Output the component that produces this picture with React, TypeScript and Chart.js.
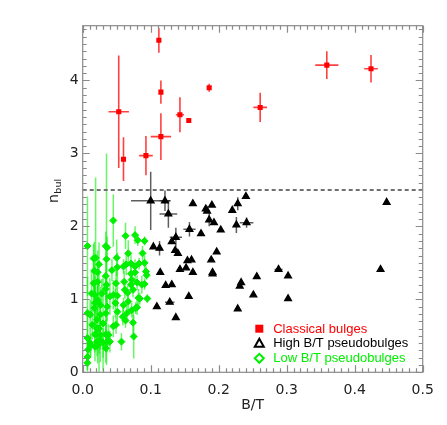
import React, { useEffect, useRef } from "react";
import { Chart, registerables } from "chart.js";

Chart.register(...registerables);

// ---------- data ----------
const xTickValues = [0, 0.1, 0.2, 0.3, 0.4, 0.5];
const yTickValues = [0, 1, 2, 3, 4];
const threshold = 2.5;

const legendLabels = ["Classical bulges", "High B/T pseudobulges", "Low B/T pseudobulges"];

// Classical bulges (red squares)
const classicalBT = [0.053, 0.060, 0.093, 0.112, 0.115, 0.115, 0.143, 0.156, 0.186, 0.261, 0.359, 0.424];
const classicalN = [3.57, 2.92, 2.97, 4.55, 3.84, 3.23, 3.53, 3.45, 3.90, 3.63, 4.21, 4.16];
const classicalBTErr = [0.015, 0, 0.010, 0, 0, 0.015, 0.006, 0, 0, 0.010, 0.017, 0.010];
const classicalNErr = [0.77, 0.30, 0.27, 0.17, 0.16, 0.32, 0.24, 0, 0.055, 0.20, 0.19, 0.19];

// High B/T pseudobulges (black triangles)
const highBT = [0.100, 0.121, 0.126, 0.162, 0.190, 0.181, 0.183, 0.220, 0.228, 0.240, 0.447, 0.186, 0.193, 0.203, 0.226, 0.241,
  0.157, 0.174, 0.137, 0.131, 0.104, 0.113, 0.136, 0.140, 0.197, 0.154, 0.160, 0.189, 0.152, 0.143, 0.162, 0.191, 0.191, 0.114,
  0.122, 0.131, 0.109, 0.128, 0.137, 0.156, 0.233, 0.231, 0.256, 0.251, 0.228, 0.288, 0.302, 0.302, 0.438];
const highN = [2.35, 2.35, 2.17, 2.31, 2.29, 2.24, 2.21, 2.22, 2.31, 2.41, 2.33, 2.09, 2.05, 1.95, 2.02, 2.05,
  1.96, 1.90, 1.85, 1.79, 1.72, 1.70, 1.67, 1.63, 1.65, 1.53, 1.54, 1.54, 1.43, 1.41, 1.37, 1.37, 1.35, 1.37,
  1.19, 1.20, 0.90, 0.96, 0.75, 1.04, 1.23, 1.18, 1.31, 1.06, 0.87, 1.41, 1.32, 1.01, 1.41];
const highBTErr = [0.029, 0.008, 0.013, 0, 0, 0, 0, 0, 0, 0, 0, 0, 0, 0, 0, 0.010,
  0.009, 0, 0.009, 0, 0, 0, 0, 0, 0, 0, 0, 0, 0, 0, 0, 0, 0, 0,
  0, 0, 0, 0.007, 0, 0, 0, 0, 0, 0, 0, 0.006, 0, 0, 0];
const highNErr = [0.40, 0.14, 0.19, 0, 0, 0, 0, 0, 0.09, 0, 0, 0.09, 0, 0, 0.11, 0.07,
  0.10, 0, 0.13, 0, 0, 0.10, 0, 0, 0, 0, 0, 0, 0, 0, 0, 0, 0, 0,
  0, 0, 0, 0, 0, 0, 0, 0, 0, 0, 0, 0, 0, 0, 0];

// Low B/T pseudobulges (green diamonds)
const lowBT = [0.007, 0.045, 0.063, 0.077, 0.081, 0.091, 0.034, 0.036, 0.067, 0.088, 0.019, 0.016, 0.035, 0.050, 0.024,
  0.064, 0.060, 0.071, 0.051, 0.077, 0.083, 0.091, 0.093, 0.094, 0.071, 0.077, 0.017, 0.022, 0.034, 0.043,
  0.016, 0.022, 0.035, 0.049, 0.061, 0.072, 0.071, 0.080, 0.087, 0.091, 0.013, 0.018, 0.022, 0.028, 0.034,
  0.040, 0.045, 0.051, 0.062, 0.066, 0.074, 0.082, 0.084, 0.095, 0.067, 0.060, 0.072, 0.078, 0.080, 0.065,
  0.051, 0.048, 0.036, 0.026, 0.018, 0.007, 0.011, 0.017, 0.026, 0.034, 0.021, 0.014, 0.059, 0.063, 0.074,
  0.045, 0.049, 0.030, 0.024, 0.021, 0.007, 0.011, 0.008, 0.007, 0.018, 0.026, 0.034, 0.038, 0.021, 0.030,
  0.026, 0.036, 0.040, 0.034, 0.024, 0.057, 0.075, 0.018, 0.022, 0.012, 0.007];
const lowN = [1.73, 2.08, 1.87, 1.88, 1.81, 1.80, 1.73, 1.71, 1.63, 1.63, 1.57, 1.56, 1.55, 1.57, 1.48,
  1.48, 1.45, 1.49, 1.44, 1.45, 1.49, 1.50, 1.38, 1.33, 1.35, 1.37, 1.39, 1.37, 1.32, 1.40,
  1.22, 1.24, 1.20, 1.22, 1.24, 1.27, 1.20, 1.23, 1.20, 1.21, 1.08, 1.06, 0.99, 1.08, 1.14,
  1.04, 1.06, 1.05, 1.13, 1.09, 1.13, 1.02, 1.01, 1.01, 0.97, 0.92, 0.85, 0.88, 0.89, 0.81,
  0.83, 0.95, 0.90, 0.92, 0.95, 0.81, 0.79, 0.88, 0.79, 0.81, 0.72, 0.65, 0.76, 0.71, 0.68,
  0.63, 0.65, 0.67, 0.60, 0.60, 0.47, 0.40, 0.31, 0.21, 0.52, 0.51, 0.52, 0.51, 0.42, 0.40,
  0.44, 0.42, 0.42, 0.33, 0.40, 0.42, 0.49, 0.35, 0.37, 0.37, 0.13];
const lowNErr = [0.68, 0.36, 0.18, 0.12, 0.08, 0.06, 0.20, 0.15, 0.18, 0.10, 1.10, 0.20, 1.45, 0.25, 0.30,
  0.15, 0.10, 0.12, 0.20, 0.10, 0.08, 0.10, 0.08, 0.06, 0.10, 0.12, 0.40, 0.30, 0.20, 0.15,
  0.35, 0.25, 0.30, 0.20, 0.15, 0.12, 0.10, 0.10, 0.12, 0.08, 0.30, 0.25, 0.20, 0.20, 0.15,
  0.25, 0.20, 0.15, 0.12, 0.10, 0.10, 0.12, 0.08, 0.06, 0.15, 0.10, 0.10, 0.08, 0.10, 0.12,
  0.15, 0.20, 0.20, 0.25, 0.30, 0.50, 0.20, 0.30, 0.20, 0.30, 0.25, 0.20, 0.12, 0.10, 0.15,
  0.15, 0.12, 0.65, 0.60, 0.30, 0.40, 0.20, 0.15, 0.20, 0.25, 0.20, 0.20, 0.15, 0.20, 0.20,
  0.30, 0.15, 0.15, 0.20, 0.15, 0.12, 0.30, 0.20, 0.25, 0.15, 0.10];

// ---------- helpers ----------
const toPoints = (xs: number[], ys: number[]) => xs.map((x, i) => ({ x, y: ys[i] }));

const errorBarPlugin = {
  id: "errorBars",
  beforeDatasetsDraw(chart: any) {
    const { ctx, chartArea: a } = chart;
    const xs = chart.scales.x;
    const ys = chart.scales.y;
    ctx.save();
    ctx.beginPath();
    ctx.rect(a.left, a.top, a.right - a.left, a.bottom - a.top);
    ctx.clip();
    chart.data.datasets.forEach((ds: any) => {
      if (!ds.xErr && !ds.yErr) return;
      ctx.strokeStyle = ds.errColor;
      ctx.lineWidth = ds.errWidth || 1.5;
      ds.data.forEach((p: any, j: number) => {
        const px = xs.getPixelForValue(p.x);
        const py = ys.getPixelForValue(p.y);
        ctx.beginPath();
        if (ds.yErr && ds.yErr[j]) {
          ctx.moveTo(px, ys.getPixelForValue(p.y - ds.yErr[j]));
          ctx.lineTo(px, ys.getPixelForValue(p.y + ds.yErr[j]));
        }
        if (ds.xErr && ds.xErr[j]) {
          ctx.moveTo(xs.getPixelForValue(p.x - ds.xErr[j]), py);
          ctx.lineTo(xs.getPixelForValue(p.x + ds.xErr[j]), py);
        }
        ctx.stroke();
      });
    });
    ctx.restore();
  },
};

const framePlugin = {
  id: "frameTicks",
  afterDatasetsDraw(chart: any) {
    const { ctx, chartArea: a } = chart;
    const xs = chart.scales.x;
    const ys = chart.scales.y;
    ctx.save();
    ctx.strokeStyle = "#8a8a8a";
    ctx.lineWidth = 1.2;
    ctx.strokeRect(a.left, a.top, a.right - a.left, a.bottom - a.top);
    ctx.beginPath();
    const xMinorStep = 0.01;
    const nx = Math.round((xs.max - xs.min) / xMinorStep);
    for (let i = 0; i <= nx; i++) {
      const v = xs.min + i * xMinorStep;
      const px = Math.round(xs.getPixelForValue(v)) + 0.5;
      const len = i % 10 === 0 ? 7 : 4;
      ctx.moveTo(px, a.bottom);
      ctx.lineTo(px, a.bottom - len);
      ctx.moveTo(px, a.top);
      ctx.lineTo(px, a.top + len);
    }
    const yMinorStep = 0.1;
    const ny = Math.floor((ys.max - ys.min) / yMinorStep + 1e-6);
    for (let i = 0; i <= ny; i++) {
      const v = ys.min + i * yMinorStep;
      const py = Math.round(ys.getPixelForValue(v)) + 0.5;
      const len = i % 10 === 0 ? 7 : 4;
      ctx.moveTo(a.left, py);
      ctx.lineTo(a.left + len, py);
      ctx.moveTo(a.right, py);
      ctx.lineTo(a.right - len, py);
    }
    ctx.stroke();
    ctx.restore();
  },
};

const yTitlePlugin = {
  id: "yTitle",
  afterDraw(chart: any) {
    const { ctx, chartArea: a } = chart;
    ctx.save();
    ctx.translate(a.left - 25, (a.top + a.bottom) / 2 - 1);
    ctx.rotate(-Math.PI / 2);
    ctx.fillStyle = "#222";
    ctx.textBaseline = "alphabetic";
    ctx.textAlign = "left";
    ctx.font = "14px 'DejaVu Sans'";
    ctx.fillText("n", -5, 0);
    const w = ctx.measureText("n").width;
    ctx.font = "9.5px 'DejaVu Sans'";
    ctx.fillText("bul", -5 + w + 0.5, 3.5);
    ctx.restore();
  },
};

const legendPlugin = {
  id: "customLegend",
  afterDraw(chart: any) {
    const { ctx, chartArea: a } = chart;
    const mx = a.right - 163.4;
    const tx = a.right - 149.5;
    const rows = [a.bottom - 43.6, a.bottom - 29, a.bottom - 14];
    const colors = ["#ff0000", "#000000", "#00f000"];
    ctx.save();
    ctx.fillStyle = colors[0];
    ctx.fillRect(mx - 4, rows[0] - 4, 8, 8);
    ctx.strokeStyle = colors[1];
    ctx.lineWidth = 2;
    ctx.beginPath();
    ctx.moveTo(mx, rows[1] - 4.5);
    ctx.lineTo(mx + 4.5, rows[1] + 3.5);
    ctx.lineTo(mx - 4.5, rows[1] + 3.5);
    ctx.closePath();
    ctx.stroke();
    ctx.strokeStyle = colors[2];
    ctx.beginPath();
    ctx.moveTo(mx, rows[2] - 4.5);
    ctx.lineTo(mx + 4.5, rows[2]);
    ctx.lineTo(mx, rows[2] + 4.5);
    ctx.lineTo(mx - 4.5, rows[2]);
    ctx.closePath();
    ctx.stroke();
    ctx.font = "13px 'Liberation Sans'";
    ctx.textBaseline = "middle";
    ctx.textAlign = "left";
    legendLabels.forEach((t, i) => {
      ctx.fillStyle = colors[i];
      ctx.fillText(t, tx, rows[i] + 0.5);
    });
    ctx.restore();
  },
};

export default function App() {
  const ref = useRef<HTMLCanvasElement | null>(null);

  useEffect(() => {
    if (!ref.current) return;
    const chart = new Chart(ref.current, {
      type: "scatter",
      data: {
        datasets: [
          {
            label: legendLabels[0],
            data: toPoints(classicalBT, classicalN),
            xErr: classicalBTErr,
            yErr: classicalNErr,
            errColor: "rgba(255,0,0,0.75)",
            errWidth: 1.6,
            pointStyle: "rect",
            pointRadius: 3.6,
            backgroundColor: "#ff0000",
            borderColor: "#ff0000",
            borderWidth: 0,
            order: 1,
          } as any,
          {
            label: legendLabels[1],
            data: toPoints(highBT, highN),
            xErr: highBTErr,
            yErr: highNErr,
            errColor: "rgba(40,40,40,0.75)",
            errWidth: 1.5,
            pointStyle: "triangle",
            pointRadius: 3.8,
            backgroundColor: "#000000",
            borderColor: "#000000",
            borderWidth: 1.4,
            order: 2,
          } as any,
          {
            label: legendLabels[2],
            data: toPoints(lowBT, lowN),
            yErr: lowNErr,
            errColor: "rgba(0,240,0,0.6)",
            errWidth: 1.5,
            pointStyle: "rectRot",
            pointRadius: 3.5,
            backgroundColor: "#00f000",
            borderColor: "#00f000",
            borderWidth: 1,
            order: 3,
          } as any,
          {
            label: "threshold",
            data: [
              { x: xTickValues[0], y: threshold },
              { x: xTickValues[xTickValues.length - 1], y: threshold },
            ],
            showLine: true,
            borderColor: "#707070",
            borderWidth: 2,
            borderDash: [4, 3],
            pointRadius: 0,
            order: 0,
          } as any,
        ],
      },
      options: {
        animation: false,
        responsive: false,
        events: [],
        layout: { padding: { left: 0, right: 24.3, top: 25.7, bottom: 0 } },
        plugins: {
          legend: { display: false },
          tooltip: { enabled: false },
        },
        scales: {
          x: {
            type: "linear",
            min: 0,
            max: 0.5,
            grid: { display: false, drawTicks: false },
            border: { display: false },
            afterBuildTicks: (s: any) => {
              s.ticks = xTickValues.map((v) => ({ value: v }));
            },
            afterFit: (s: any) => {
              s.height = 52.7;
            },
            ticks: {
              padding: 10,
              color: "#222",
              font: { family: "'DejaVu Sans'", size: 14 },
              callback: (v: any) => Number(v).toFixed(1),
              maxRotation: 0,
            },
            title: {
              display: true,
              text: "B/T",
              color: "#222",
              font: { family: "'DejaVu Sans'", size: 14 },
              padding: { top: 0, bottom: 11 },
            },
          },
          y: {
            type: "linear",
            min: 0,
            max: 4.75,
            grid: { display: false, drawTicks: false },
            border: { display: false },
            afterBuildTicks: (s: any) => {
              s.ticks = yTickValues.map((v) => ({ value: v }));
            },
            afterFit: (s: any) => {
              s.width = 82.7;
            },
            ticks: {
              padding: 4,
              color: "#222",
              font: { family: "'DejaVu Sans'", size: 14 },
              callback: (v: any) => String(v),
            },
          },
        },
      },
      plugins: [errorBarPlugin, framePlugin, yTitlePlugin, legendPlugin],
    } as any);
    return () => chart.destroy();
  }, []);

  return (
    <div style={{ position: "fixed", left: 0, top: 0, width: 447, height: 425, background: "#fff" }}>
      <canvas ref={ref} width={447} height={425} style={{ display: "block" }} />
    </div>
  );
}
